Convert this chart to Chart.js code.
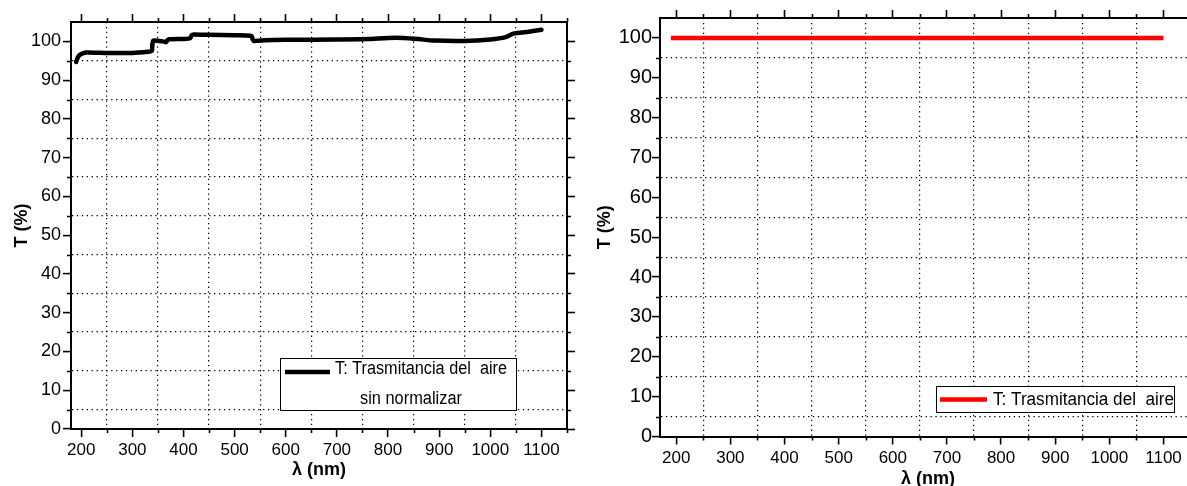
<!DOCTYPE html>
<html><head><meta charset="utf-8">
<script src="https://cdn.jsdelivr.net/npm/chart.js@4.4.1/dist/chart.umd.min.js"></script>
<style>
html,body{margin:0;padding:0;background:#fff;overflow:hidden;width:1187px;height:486px;}
#c1{position:absolute;left:0;top:0;}
#c2{position:absolute;left:593px;top:0;}
</style></head><body>
<canvas id="c1" width="593" height="486"></canvas>
<canvas id="c2" width="620" height="486"></canvas>
<script>
// ---- data ----
const wavelengthRaw = [190,193,197,203,210,250,300,330,338,339,341,360,366,370,400,413,416,420,450,500,533,535,537,560,600,700,760,800,830,860,890,950,1000,1030,1045,1075,1100];
const transRaw      = [94.7,95.8,96.5,96.9,97.1,97.0,97.0,97.3,97.5,99.0,100.2,100.0,99.8,100.5,100.6,100.8,101.6,101.8,101.7,101.6,101.4,100.6,100.1,100.3,100.4,100.5,100.6,100.9,100.9,100.6,100.2,100.1,100.5,101.1,102.0,102.5,103.0];
const wavelengthNorm = [190, 1100];
const transNorm      = [100, 100];

const xMajorTicks = [200,300,400,500,600,700,800,900,1000,1100];
const xTickLabels = ['200','300','400','500','600','700','800','900','1000','1100'];
const xMinorTicks = [250,350,450,550,650,750,850,950,1050,1150];
const yMajorTicks = [0,10,20,30,40,50,60,70,80,90,100];
const yTickLabels = ['0','10','20','30','40','50','60','70','80','90','100'];
const yMinorTicks = [5,15,25,35,45,55,65,75,85,95];

const xTitle = 'λ (nm)';
const yTitle = 'T (%)';
const legendLeftLines = ['T: Trasmitancia del  aire', 'sin normalizar'];
const legendRightLines = ['T: Trasmitancia del  aire'];

Chart.defaults.color = '#000';
Chart.defaults.font.family = 'Liberation Sans, Arial, sans-serif';

const isMinorX = v => xMinorTicks.includes(v);
const isMinorY = v => yMinorTicks.includes(v);

function makeTicks(all){
  return s => { s.ticks = all.filter(v => v >= s.min && v <= s.max).sort((a,b)=>a-b).map(v => ({value: v})); };
}
const xAll = xMajorTicks.concat(xMinorTicks);
const yAll = yMajorTicks.concat(yMinorTicks);
const DASH = [1.3, 3.6];

function buildScales(o){
  return {
    x: {
      type: 'linear', position: 'bottom', min: o.xmin, max: o.xmax,
      afterBuildTicks: makeTicks(xAll),
      afterFit: s => { s.height = o.bottomH; },
      ticks: { autoSkip: false, maxRotation: 0, padding: o.xPad, font: { size: 17 },
        callback: v => { const i = xMajorTicks.indexOf(v); return i >= 0 ? xTickLabels[i] : ''; } },
      grid: { drawOnChartArea: true, tickLength: 8, tickWidth: 1.6,
        color: c => (c.tick && isMinorX(c.tick.value)) ? '#000' : 'rgba(0,0,0,0)',
        tickColor: c => (c.tick && isMinorX(c.tick.value)) ? 'rgba(0,0,0,0)' : '#000',
        lineWidth: 1.2 },
      border: { display: true, color: '#000', width: 2, dash: DASH },
      title: { display: true, text: xTitle, font: { size: 18, weight: 'bold' }, padding: { top: 0, bottom: o.xTitlePad } }
    },
    x2: {
      type: 'linear', position: 'top', min: o.xmin, max: o.xmax,
      afterBuildTicks: makeTicks(xAll),
      afterFit: s => { s.height = o.topH; },
      ticks: { display: false },
      grid: { drawOnChartArea: false, tickLength: 8, tickWidth: 1.6,
        tickColor: c => (c.tick && isMinorX(c.tick.value)) ? 'rgba(0,0,0,0)' : '#000' },
      border: { display: true, color: '#000', width: 2 }
    },
    y: {
      type: 'linear', position: 'left', min: 0, max: 105,
      afterBuildTicks: makeTicks(yAll),
      afterFit: s => { s.width = o.leftW; },
      ticks: { autoSkip: false, padding: o.yPad, font: { size: o.yFont },
        callback: v => { const i = yMajorTicks.indexOf(v); return i >= 0 ? yTickLabels[i] : ''; } },
      grid: { drawOnChartArea: true, tickLength: 8, tickWidth: 1.6, lineWidth: 1.2,
        color: c => (c.tick && isMinorY(c.tick.value)) ? '#000' : 'rgba(0,0,0,0)',
        tickColor: c => (c.tick && isMinorY(c.tick.value)) ? 'rgba(0,0,0,0)' : '#000' },
      border: { display: true, color: '#000', width: 2, dash: DASH },
      title: { display: true, text: yTitle, font: { size: 18, weight: 'bold' }, padding: { top: o.yTitlePad, bottom: 0 } }
    },
    y2: {
      type: 'linear', position: 'right', min: 0, max: 105,
      afterBuildTicks: makeTicks(yAll),
      afterFit: s => { s.width = o.rightW; },
      ticks: { display: false },
      grid: { drawOnChartArea: false, tickLength: 8, tickWidth: 1.6,
        tickColor: c => (c.tick && isMinorY(c.tick.value)) ? 'rgba(0,0,0,0)' : '#000' },
      border: { display: true, color: '#000', width: 2 }
    }
  };
}

const minorTickPlugin = {
  id: 'minorTicks',
  afterDraw(chart){
    const ctx = chart.ctx, a = chart.chartArea, L = 4;
    ctx.save(); ctx.strokeStyle = '#000'; ctx.lineWidth = 1.6;
    const sx = chart.scales.x, sy = chart.scales.y;
    ctx.beginPath();
    xMinorTicks.forEach(v => {
      if (v < sx.min || v > sx.max) return;
      const p = Math.round(sx.getPixelForValue(v)) + 0.5;
      ctx.moveTo(p, a.bottom); ctx.lineTo(p, a.bottom + L);
      ctx.moveTo(p, a.top); ctx.lineTo(p, a.top - L);
    });
    yMinorTicks.forEach(v => {
      const p = Math.round(sy.getPixelForValue(v)) + 0.5;
      ctx.moveTo(a.left, p); ctx.lineTo(a.left - L, p);
      ctx.moveTo(a.right, p); ctx.lineTo(a.right + L, p);
    });
    ctx.stroke(); ctx.restore();
  }
};

function legendPlugin(cfg){
  return {
    id: 'boxLegend',
    afterDraw(chart){
      const ctx = chart.ctx;
      ctx.save();
      ctx.fillStyle = '#fff';
      ctx.fillRect(cfg.box[0], cfg.box[1], cfg.box[2], cfg.box[3]);
      ctx.strokeStyle = '#000'; ctx.lineWidth = 1;
      ctx.strokeRect(cfg.box[0] + 0.5, cfg.box[1] + 0.5, cfg.box[2], cfg.box[3]);
      ctx.strokeStyle = cfg.color; ctx.lineWidth = 4.5; ctx.lineCap = 'butt';
      ctx.beginPath(); ctx.moveTo(cfg.sample[0], cfg.sample[2]); ctx.lineTo(cfg.sample[1], cfg.sample[2]); ctx.stroke();
      ctx.fillStyle = '#000';
      ctx.font = '18px "Liberation Sans", Arial, sans-serif';
      ctx.textBaseline = 'alphabetic';
      cfg.lines.forEach((t, i) => {
        const w = ctx.measureText(t).width;
        const k = cfg.widths[i] / w;
        ctx.save();
        ctx.translate(cfg.pos[i][0], cfg.pos[i][1]);
        ctx.scale(k, 1);
        ctx.fillText(t, 0, 0);
        ctx.restore();
      });
      ctx.restore();
    }
  };
}

new Chart(document.getElementById('c1'), {
  type: 'line',
  data: { datasets: [{
    data: wavelengthRaw.map((x, i) => ({ x, y: transRaw[i] })),
    borderColor: '#000', borderWidth: 4.5, pointRadius: 0, tension: 0.2,
    borderJoinStyle: 'round', borderCapStyle: 'round', fill: false
  }]},
  options: {
    responsive: false, animation: false, devicePixelRatio: 1,
    layout: { padding: 0 },
    plugins: { legend: { display: false }, tooltip: { enabled: false } },
    scales: buildScales({ xmin: 180, xmax: 1150, bottomH: 57, topH: 22, leftW: 71, rightW: 26,
      xPad: 3, yPad: 2, yFont: 18, xTitlePad: 5, yTitlePad: 11.5 })
  },
  plugins: [minorTickPlugin, legendPlugin({
    box: [280, 358, 236, 52], color: '#000', sample: [285, 330, 372],
    lines: legendLeftLines, widths: [172, 102], pos: [[335, 373.5], [360, 403.5]]
  })]
});

new Chart(document.getElementById('c2'), {
  type: 'line',
  data: { datasets: [{
    data: wavelengthNorm.map((x, i) => ({ x, y: transNorm[i] })),
    borderColor: '#ff0000', borderWidth: 4.5, pointRadius: 0, tension: 0,
    borderCapStyle: 'butt', fill: false
  }]},
  options: {
    responsive: false, animation: false, devicePixelRatio: 1,
    layout: { padding: 0 },
    plugins: { legend: { display: false }, tooltip: { enabled: false } },
    scales: buildScales({ xmin: 170, xmax: 1160, bottomH: 49.5, topH: 18, leftW: 67, rightW: 17,
      xPad: 4, yPad: 0, yFont: 20, xTitlePad: -4, yTitlePad: 1.5 })
  },
  plugins: [minorTickPlugin, legendPlugin({
    box: [343, 386, 238, 26], color: '#ff0000', sample: [347, 394, 399.5],
    lines: legendRightLines, widths: [181], pos: [[400, 405]]
  })]
});
</script>
</body></html>
